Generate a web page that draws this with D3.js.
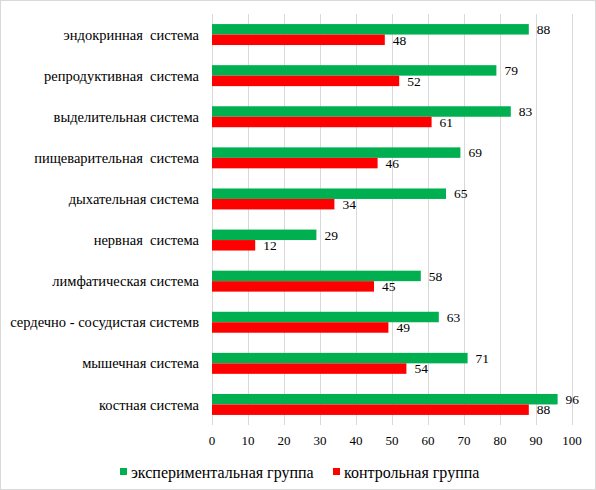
<!DOCTYPE html>
<html lang="ru">
<head>
<meta charset="UTF-8">
<title>Системы организма</title>
<script src="https://d3js.org/d3.v7.min.js"></script>
<style>
  body { margin: 0; background: #fff; }
</style>
</head>
<body>
<svg width="596" height="490" font-family="'Liberation Serif', 'DejaVu Serif', serif"></svg>
<script>
// Категории (сверху вниз) и значения
const categories = [
  "эндокринная  система",
  "репродуктивная  система",
  "выделительная система",
  "пищеварительная  система",
  "дыхательная система",
  "нервная  система",
  "лимфатическая система",
  "сердечно - сосудистая системв",
  "мышечная система",
  "костная система"
];
const experimental = [88, 79, 83, 69, 65, 29, 58, 63, 71, 96];
const control = [48, 52, 61, 46, 34, 12, 45, 49, 54, 88];
const seriesNames = ["экспериментальная группа", "контрольная группа"];
const colors = ["#00b050", "#ff0000"];
const xTicks = d3.range(0, 101, 10);

const svg = d3.select("svg");
const margin = {top: 14, right: 24, bottom: 65, left: 212};
const W = 596, H = 490;

// outer border
svg.append("rect")
  .attr("x", 0.5).attr("y", 0.5)
  .attr("width", W - 1).attr("height", H - 1)
  .attr("fill", "none").attr("stroke", "#d9d9d9");

const x = d3.scaleLinear().domain([0, 100]).range([margin.left, W - margin.right]);
const y = d3.scaleBand().domain(categories).range([margin.top, H - margin.bottom]).paddingInner(0.49).paddingOuter(0.245);
const sub = d3.scaleBand().domain([0, 1]).range([0, y.bandwidth()]);

// gridlines
svg.append("g").selectAll("line").data(xTicks).join("line")
  .attr("x1", d => Math.round(x(d)) + 0.5).attr("x2", d => Math.round(x(d)) + 0.5)
  .attr("y1", margin.top).attr("y2", H - margin.bottom)
  .attr("stroke", "#d9d9d9").attr("stroke-width", 1);

// tick labels
svg.append("g").selectAll("text").data(xTicks).join("text")
  .attr("x", d => x(d)).attr("y", H - margin.bottom + 20)
  .attr("text-anchor", "middle").attr("font-size", 13)
  .attr("fill", "#000")
  .text(d => d);

// category labels
svg.append("g").selectAll("text").data(categories).join("text")
  .attr("x", margin.left - 13)
  .attr("y", d => y(d) + y.bandwidth() / 2)
  .attr("dy", "0.35em")
  .attr("text-anchor", "end").attr("font-size", 14.5)
  .attr("fill", "#000")
  .style("white-space", "pre")
  .text(d => d);

const series = [experimental, control];
series.forEach((vals, si) => {
  const g = svg.append("g");
  g.selectAll("rect").data(vals).join("rect")
    .attr("x", x(0))
    .attr("y", (d, i) => y(categories[i]) + sub(si))
    .attr("width", d => x(d) - x(0))
    .attr("height", sub.bandwidth())
    .attr("fill", colors[si]);
  g.selectAll("text").data(vals).join("text")
    .attr("x", d => x(d) + 8)
    .attr("y", (d, i) => y(categories[i]) + sub(si) + sub.bandwidth() / 2)
    .attr("dy", "0.35em")
    .attr("font-size", 13.5)
    .attr("fill", "#000")
    .text(d => d);
});

// legend
const legendX = [120, 333];
const legend = svg.append("g");
seriesNames.forEach((name, i) => {
  legend.append("rect")
    .attr("x", legendX[i]).attr("y", 468)
    .attr("width", 7).attr("height", 7)
    .attr("fill", colors[i]);
  legend.append("text")
    .attr("x", legendX[i] + 11).attr("y", 472)
    .attr("dy", "0.35em").attr("font-size", 16)
    .attr("fill", "#000")
    .text(name);
});
</script>
</body>
</html>
